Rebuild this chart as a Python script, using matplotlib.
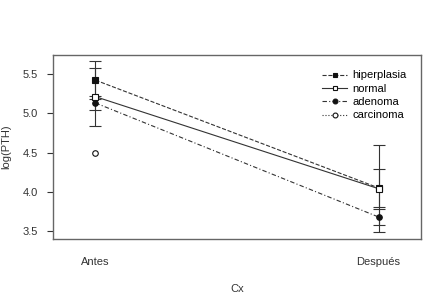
import matplotlib

matplotlib.use('Agg')

import numpy as np
import matplotlib.pyplot as plt
from matplotlib.lines import Line2D

plt.rcParams['font.family'] = ['Liberation Sans', 'DejaVu Sans']

# interaction data: mean log(PTH) per group before/after surgery
momentos = ['Antes', 'Después']
grupos = ['hiperplasia', 'normal', 'adenoma', 'carcinoma']
antes = [5.42, 5.21, 5.13, 4.49]
despues = [4.05, 4.04, 3.68, np.nan]
err_antes = [0.24, 0.37, 0.09, np.nan]
err_despues = [0.24, 0.55, 0.10, np.nan]

estilos = ['--', '-', (0, (4, 2, 1, 2)), ':']
marcas = ['s', 's', 'o', 'o']
relleno = ['#111111', 'white', '#111111', 'white']

ff = plt.figure(figsize=(4.36, 2.97), dpi=100)
ax = ff.add_axes([0.1216, 0.1953, 0.844, 0.6195])

x = np.array([1, 2])
for i, g in enumerate(grupos):
    y = np.array([antes[i], despues[i]])
    e = np.array([err_antes[i], err_despues[i]])
    ax.errorbar(x, y, yerr=e, fmt='none', ecolor='#333333', elinewidth=0.8,
                capsize=4.5, capthick=0.8, zorder=2)
    ax.plot(x, y, linestyle=estilos[i], color='#333333', linewidth=0.8, zorder=3)
    ax.plot(x, y, linestyle='none', marker=marcas[i], markersize=4,
            markerfacecolor=relleno[i], markeredgecolor='#111111',
            markeredgewidth=0.8, zorder=4)

ax.set_xlim(0.85, 2.15)
ax.set_ylim(3.40, 5.74)
ax.set_xticks(x)
ax.set_xticklabels(momentos)
ax.set_yticks([3.5, 4.0, 4.5, 5.0, 5.5])
ax.tick_params(axis='x', length=0, pad=13, labelsize=8, colors='#333333')
ax.tick_params(axis='y', length=4, pad=7, labelsize=8, colors='#333333',
               width=0.8)
for s in ax.spines.values():
    s.set_color('#666666')
    s.set_linewidth(1.0)

ax.set_xlabel('Cx', fontsize=8, color='#333333', labelpad=12)
ax.set_ylabel('log(PTH)', fontsize=8, color='#333333', labelpad=8)

handles = [Line2D([], [], linestyle=estilos[i], color='#333333', linewidth=0.8,
                  marker=marcas[i], markersize=3.5, markerfacecolor=relleno[i],
                  markeredgecolor='#111111', markeredgewidth=0.8)
           for i in range(len(grupos))]
ax.legend(handles, grupos, loc='upper left', bbox_to_anchor=(0.72, 0.94),
          frameon=False, fontsize=8, handlelength=2.2, handletextpad=0.5,
          labelspacing=0.3, borderaxespad=0)

ff.savefig('out.png', dpi=100)
